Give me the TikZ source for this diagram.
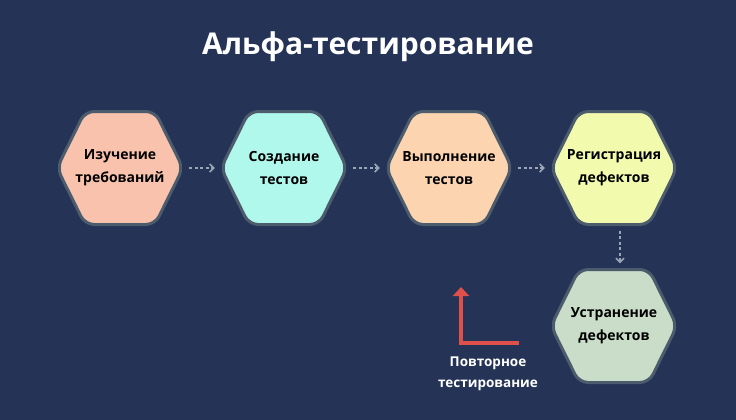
\documentclass[tikz,border=0pt]{standalone}
\usepackage{fontspec}
\setmainfont{Open Sans}
\usetikzlibrary{arrows.meta}
\definecolor{bg}{HTML}{243356}
\definecolor{hexborder}{HTML}{4C5C6C}
\definecolor{arr}{HTML}{9AA6B8}
\definecolor{redarr}{HTML}{E0504A}
\definecolor{ca}{HTML}{F9C2AC}
\definecolor{cb}{HTML}{B0F8EC}
\definecolor{cc}{HTML}{FCD5B0}
\definecolor{cd}{HTML}{F2FAAE}
\definecolor{ce}{HTML}{C9DDC8}
\tikzset{
  hexnode/.style={minimum width=126pt,minimum height=113pt,inner sep=0pt,align=center,font=\bfseries\fontsize{14}{23}\selectfont,text=black},
  conn/.style={arr,line width=2.2pt,dash pattern=on 3pt off 2.5pt,-{Straight Barb[length=4pt,width=8pt,line width=1.6pt]}},
}
\newcommand{\hexdraw}[3]{%
  \fill[#3,draw=hexborder,line width=3pt,rounded corners=9pt]
   (#1-63,#2) -- (#1-35,#2-56.5) -- (#1+35,#2-56.5) -- (#1+63,#2) -- (#1+35,#2+56.5) -- (#1-35,#2+56.5) -- cycle;}
\begin{document}
\begin{tikzpicture}[x=1pt,y=-1pt]
\fill[bg] (0,0) rectangle (736,420);
\useasboundingbox (0,0) rectangle (736,420);
\node[text=white,font=\bfseries\fontsize{30}{34}\selectfont] (title) at (368,47) {Альфа-тестирование};
\hexdraw{120}{168}{ca}
\hexdraw{284}{168}{cb}
\hexdraw{449}{168}{cc}
\hexdraw{614}{168}{cd}
\hexdraw{614}{326}{ce}
\node[hexnode] (h1) at (120,168) {Изучение\\требований};
\node[hexnode] (h2) at (284,168) {Создание\\тестов};
\node[hexnode] (h3) at (449,168) {Выполнение\\тестов};
\node[hexnode] (h4) at (614,168) {Регистрация\\дефектов};
\node[hexnode] (h5) at (614,326) {Устранение\\дефектов};
\draw[conn] ([xshift=6pt]h1.east) -- ([xshift=-6pt]h2.west);
\draw[conn] ([xshift=6pt]h2.east) -- ([xshift=-6pt]h3.west);
\draw[conn] ([xshift=6pt]h3.east) -- ([xshift=-6pt]h4.west);
\draw[conn] ([shift={(6,6)}]h4.south) -- ([shift={(6,-6)}]h5.north);
\coordinate (r1) at (519,343);
\coordinate (r2) at (461,343);
\coordinate (r3) at (461,287);
\draw[redarr,line width=4pt,-{Triangle[length=9pt,width=16pt]}] (r1) -- (r2) -- (r3);
\node[text=white,align=center,font=\bfseries\fontsize{13.5}{21}\selectfont] (lbl) at (488,374) {Повторное\\тестирование};
\end{tikzpicture}
\end{document}
